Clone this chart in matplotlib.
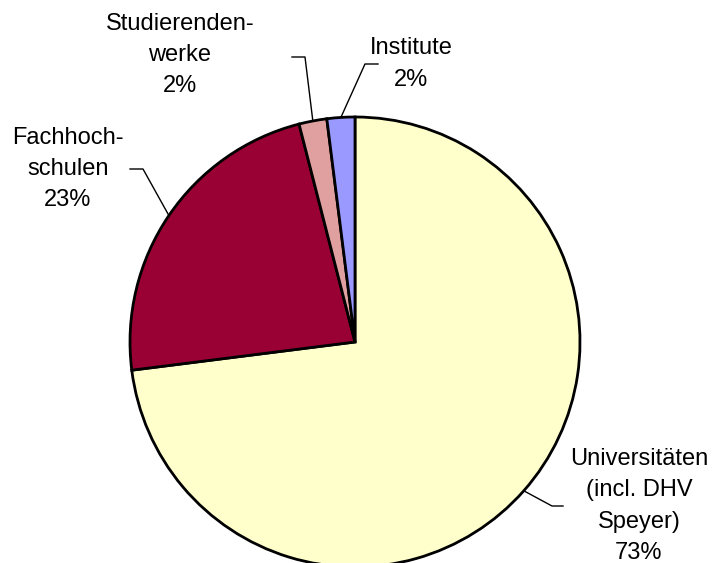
import matplotlib
matplotlib.use("Agg")
import matplotlib.pyplot as plt
import numpy as np

plt.rcParams['font.family'] = ['Liberation Sans', 'DejaVu Sans']

categories = ["Universitäten\n(incl. DHV\nSpeyer)", "Fachhoch-\nschulen", "Studierenden-\nwerke", "Institute"]
values = [73, 23, 2, 2]
pct_labels = ["73%", "23%", "2%", "2%"]
colors = ["#FFFFCC", "#990033", "#E0A0A0", "#9999FF"]

W, H = 712, 563
fig = plt.figure(figsize=(W / 100, H / 100), dpi=100)
ax = fig.add_axes([0, 0, 1, 1])
ax.set_xlim(0, W)
ax.set_ylim(0, H)
ax.set_aspect('equal')
ax.axis('off')

cx, cy, R = 355, 221, 225
wedges, _ = ax.pie(values, colors=colors, startangle=90, counterclock=False,
                   center=(cx, cy), radius=R,
                   wedgeprops=dict(edgecolor='black', linewidth=2))
ax.set_xlim(0, W)
ax.set_ylim(0, H)

# label layout: (elbow x, elbow y, end x, text x, text y)
layout = [
    (552, 57, 563, 639, 57),
    (143, 394, 130, 68, 394),
    (305, 506, 292, 180, 508),
    (365, 499, 378, 411, 499),
]

for w, cat, pct, (ex, ey, endx, tx, ty) in zip(wedges, categories, pct_labels, layout):
    mid = np.deg2rad((w.theta1 + w.theta2) / 2)
    px, py = cx + R * np.cos(mid), cy + R * np.sin(mid)
    ax.plot([px, ex, endx], [py, ey, ey], color='black', linewidth=1)
    ax.text(tx, ty, cat + "\n" + pct, ha='center', va='center', fontsize=17,
            linespacing=1.55, color='black')

fig.savefig("out.png", dpi=100)
